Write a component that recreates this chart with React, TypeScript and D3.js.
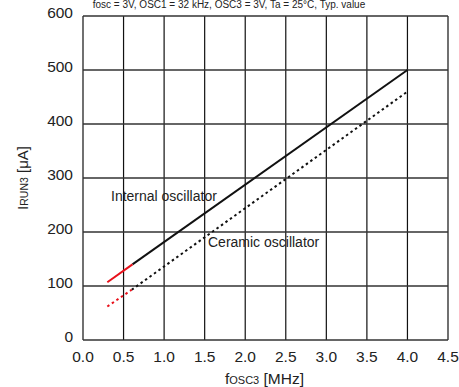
import React from "react";
import * as d3 from "d3";

const xTicks = [0, 0.5, 1.0, 1.5, 2.0, 2.5, 3.0, 3.5, 4.0, 4.5];
const yTicks = [0, 100, 200, 300, 400, 500, 600];

const internalRed = [
  { f: 0.3, i: 107 },
  { f: 0.61, i: 140 },
];
const internalBlack = [
  { f: 0.61, i: 140 },
  { f: 4.0, i: 500 },
];
const ceramicRed = [
  { f: 0.3, i: 62 },
  { f: 0.6, i: 93 },
];
const ceramicBlack = [
  { f: 0.6, i: 93 },
  { f: 4.0, i: 460 },
];

const W = 459;
const H = 387;
const M = { left: 83, right: 11, top: 16, bottom: 47 };

export default function App() {
  const x = d3.scaleLinear().domain([0, 4.5]).range([M.left, W - M.right]);
  const y = d3.scaleLinear().domain([0, 600]).range([H - M.bottom, M.top]);
  const line = d3
    .line<{ f: number; i: number }>()
    .x((d) => x(d.f))
    .y((d) => y(d.i));
  const font = "'Liberation Sans', Arial, sans-serif";
  return (
    <svg
      width={W}
      height={H}
      style={{ position: "absolute", left: 0, top: 0, background: "#fff" }}
      fontFamily={font}
    >
      <text x={229} y={8} textAnchor="middle" fontSize={10} fill="#222">
        fosc = 3V, OSC1 = 32 kHz, OSC3 = 3V, Ta = 25°C, Typ. value
      </text>
      {xTicks.map((t) => (
        <line
          key={"vx" + t}
          x1={x(t)}
          x2={x(t)}
          y1={y(0)}
          y2={y(600)}
          stroke="#111"
          strokeWidth={1.2}
        />
      ))}
      {yTicks.map((t) => (
        <line
          key={"hy" + t}
          x1={x(0)}
          x2={x(4.5)}
          y1={y(t)}
          y2={y(t)}
          stroke="#333"
          strokeWidth={1.3}
        />
      ))}
      {xTicks.map((t) => (
        <text
          key={"xl" + t}
          x={x(t)}
          y={y(0) + 22}
          textAnchor="middle"
          fontSize={15.5}
          fill="#222"
        >
          {t.toFixed(1)}
        </text>
      ))}
      {yTicks.map((t) => (
        <text
          key={"yl" + t}
          x={73}
          y={y(t) + 2}
          textAnchor="end"
          fontSize={15.5}
          fill="#222"
        >
          {t}
        </text>
      ))}
      <text x={x(2.25) - 1} y={384} textAnchor="middle" fontSize={15.5} fill="#222">
        f<tspan fontSize={11}>OSC3</tspan> [MHz]
      </text>
      <text
        transform={`translate(28, ${(y(0) + y(600)) / 2}) rotate(-90)`}
        textAnchor="middle"
        fontSize={15}
        fill="#222"
      >
        I<tspan fontSize={10.5}>RUN3</tspan> [μA]
      </text>
      <path d={line(internalBlack) || ""} fill="none" stroke="#111" strokeWidth={2} />
      <path d={line(internalRed) || ""} fill="none" stroke="#e8101a" strokeWidth={2} />
      <path
        d={line(ceramicBlack) || ""}
        fill="none"
        stroke="#111"
        strokeWidth={2}
        strokeDasharray="2.5 3"
      />
      <path
        d={line(ceramicRed) || ""}
        fill="none"
        stroke="#e8101a"
        strokeWidth={2}
        strokeDasharray="2.5 3"
      />
      <text x={111} y={201} fontSize={14} fill="#222">
        Internal oscillator
      </text>
      <text x={208} y={247} fontSize={14} fill="#222">
        Ceramic oscillator
      </text>
    </svg>
  );
}
